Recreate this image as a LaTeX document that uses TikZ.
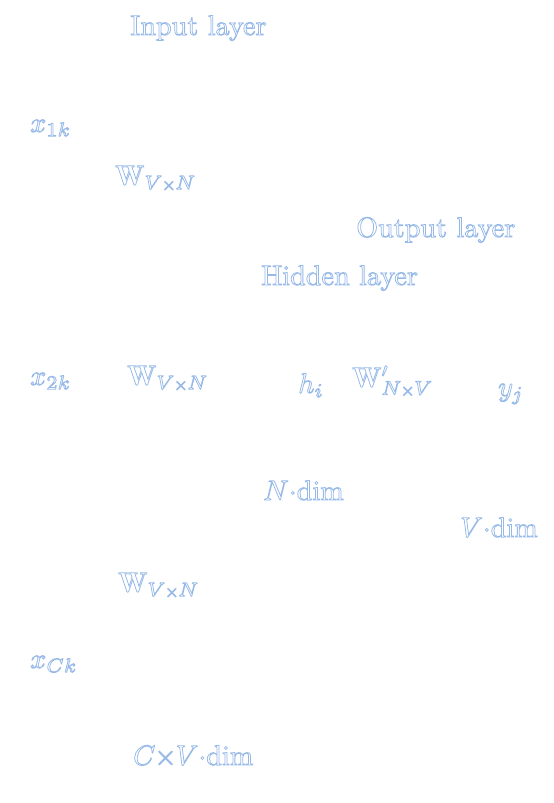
\documentclass[tikz,border=0pt]{standalone}
\usepackage{fontspec}
\usepackage{graphicx}
\definecolor{ghost}{RGB}{150,185,232}
\newcommand{\enlargetxt}[1]{\scalebox{2.82}{\special{pdf:literal direct 1 Tr 0.28 w}#1\special{pdf:literal direct 0 Tr}}}
\newcommand{\sx}{\mkern-1mu{\scriptscriptstyle\times}\mkern-1mu}
\begin{document}
\begin{tikzpicture}[x=1pt,y=1pt,
  lbl/.style={anchor=base west,inner sep=0pt,text=ghost}]
\useasboundingbox (0,0) rectangle (554,-803);
\node[lbl] (input)  at (130,-35)  {\enlargetxt{Input layer}};
\node[lbl] (x1)     at (30,-132)  {\enlargetxt{$x_{1k}$}};
\node[lbl] (w1)     at (115,-185) {\enlargetxt{$\mathbf{W}_{V\sx N}$}};
\node[lbl] (output) at (356,-237) {\enlargetxt{Output layer}};
\node[lbl] (hidden) at (261,-285) {\enlargetxt{Hidden layer}};
\node[lbl] (x2)     at (30,-385)  {\enlargetxt{$x_{2k}$}};
\node[lbl] (w2)     at (127,-385) {\enlargetxt{$\mathbf{W}_{V\sx N}$}};
\node[lbl] (h)      at (298,-393) {\enlargetxt{$h_i$}};
\node[lbl] (wp)     at (352,-387) {\enlargetxt{$\mathbf{W}'_{N\sx V}$}};
\node[lbl] (y)      at (498,-396) {\enlargetxt{$y_j$}};
\node[lbl] (ndim)   at (263,-500) {\enlargetxt{$N\cdot$dim}};
\node[lbl] (vdim)   at (460,-537) {\enlargetxt{$V\cdot$dim}};
\node[lbl] (w3)     at (118,-592) {\enlargetxt{$\mathbf{W}_{V\sx N}$}};
\node[lbl] (xc)     at (30,-668)  {\enlargetxt{$x_{Ck}$}};
\node[lbl] (cvdim)  at (133,-765) {\enlargetxt{$C\mkern-0.5mu{\times}\mkern-0.5mu V\cdot$dim}};
\end{tikzpicture}
\end{document}
